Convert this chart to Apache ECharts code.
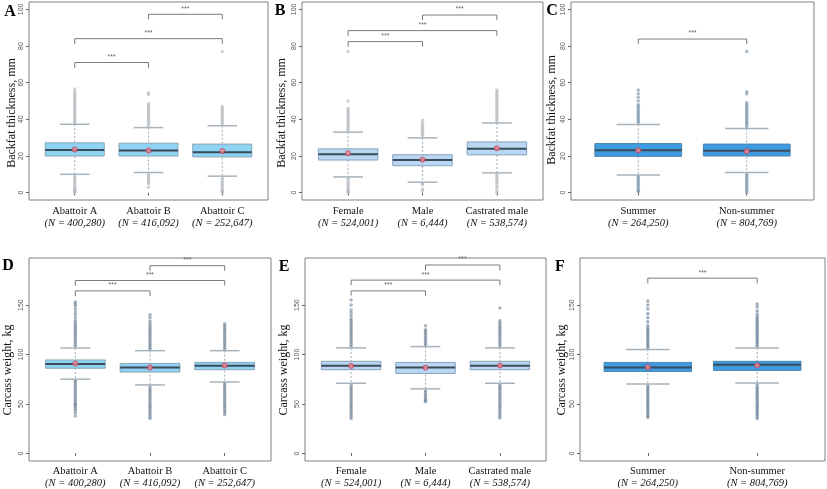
<!DOCTYPE html>
<html><head><meta charset="utf-8">
<script src="https://cdn.jsdelivr.net/npm/echarts@6/dist/echarts.min.js"></script>
<style>html,body{margin:0;padding:0;background:#fff}#c{width:827px;height:489px}</style>
</head><body><div id="c"></div><script>
// ---------- data ----------
const backfatTicks = [0, 20, 40, 60, 80, 100];
const carcassTicks = [0, 50, 100, 150];

const abattoirCats = ['Abattoir A', 'Abattoir B', 'Abattoir C'];
const abattoirN = ['400,280', '416,092', '252,647'];
const sexCats = ['Female', 'Male', 'Castrated male'];
const sexN = ['524,001', '6,444', '538,574'];
const seasonCats = ['Summer', 'Non-summer'];
const seasonN = ['264,250', '804,769'];

// box stats: [lower whisker, Q1, median, Q3, upper whisker]
const backfatAbattoirBox = [[10, 20, 23.3, 27.2, 37.3], [11, 20, 23, 27, 35.5], [9, 19.5, 22, 26.5, 36.5]];
const backfatAbattoirMean = [23.5, 23, 22.7];
const backfatAbattoirOut = [
  [0, 0.5, 1, 1.5, 2, 3, 4, 5, 6, 7, 8, 9, 38, 39, 40, 41, 42, 43, 44, 45, 46, 47, 48, 49, 50, 51, 52, 53, 54, 55, 56.5],
  [3, 5, 6, 7, 8, 9, 10, 36.5, 37.5, 38.5, 39.5, 40.5, 41.5, 42.5, 43.5, 44.5, 45.5, 46.5, 47.5, 48.5, 53.5, 54.5],
  [0, 0.5, 1, 2, 3, 4, 5, 6, 7, 8, 37, 38, 39, 40, 41, 42, 43, 44, 45, 46, 47, 77]
];
// significance brackets: [from, to, top, drop end]
const backfatAbattoirSig = [[0, 1, 71, 68], [0, 2, 84, 81], [1, 2, 97.3, 94.6]];

const backfatSexBox = [[8.6, 17.8, 20.9, 23.9, 33], [5.7, 14.7, 17.8, 20.7, 29.9], [10.8, 20.6, 23.9, 27.7, 38]];
const backfatSexMean = [21.5, 18, 24.2];
const backfatSexOut = [
  [0, 0.5, 1, 2, 3, 4, 5, 6, 7, 8, 34, 35, 36, 37, 38, 39, 40, 41, 42, 43, 44, 45, 46, 50, 77],
  [1, 2, 4.5, 5, 31, 32, 33, 34, 35, 36, 37, 38, 39.5],
  [0, 1, 2.5, 3.5, 5, 6, 7, 8, 9, 10, 39, 40, 41, 42, 43, 44, 45, 46, 47, 48, 49, 50, 51, 52, 53, 54, 55, 56]
];
const backfatSexSig = [[0, 1, 82.4, 79.6], [0, 2, 88.4, 85.6], [1, 2, 96.9, 94.2]];

const backfatSeasonBox = [[9.7, 19.8, 23.1, 26.8, 37.2], [11, 20, 22.8, 26.5, 35]];
const backfatSeasonMean = [23.1, 22.6];
const backfatSeasonOut = [
  [0.5, 1, 2, 3, 4, 5, 6, 7, 8, 9, 38, 39, 40, 41, 42, 43, 44, 45, 46, 47, 48, 50, 52, 54, 56],
  [0, 1, 2, 3, 4, 5, 6, 7, 8, 9, 10, 36, 37, 38, 39, 40, 41, 42, 43, 44, 45, 46, 47, 48, 49, 54, 55, 77]
];
const backfatSeasonSig = [[0, 1, 83.8, 81]];

const carcassAbattoirBox = [[74.8, 85.9, 90.3, 94.3, 106.4], [69, 82, 86.7, 90.8, 103.7], [72, 84.4, 88.4, 91.8, 103.7]];
const carcassAbattoirMean = [90.6, 86.7, 88.6];
const carcassAbattoirOut = [
  [37.5, 40.5, 43, 45, 47, 49, 50, 52, 54, 56, 58, 60, 62, 64, 66, 68, 70, 72, 73.5,
   108, 110, 112, 114, 116, 118, 120, 122, 124, 126, 128, 130, 132, 134, 137, 140, 143, 146, 149, 151, 153],
  [35, 37, 39, 41, 43, 45, 47, 49, 51, 53, 55, 57, 59, 61, 63, 65, 67.5,
   105, 107, 109, 111, 113, 115, 117, 119, 121, 123, 125, 127, 129, 131, 133.5, 137, 140],
  [39, 41, 43, 45, 47, 49, 51, 53, 55, 57, 59, 61, 63, 65, 67, 69, 71,
   105, 107, 109, 111, 113, 115, 117, 119, 121, 123, 125, 127, 129, 131]
];
const carcassAbattoirSig = [[0, 1, 164.3, 158.8], [0, 2, 174.8, 169.7], [1, 2, 189.8, 184.4]];

const carcassSexBox = [[70.7, 84.4, 88.4, 92.9, 106.5], [65, 80.6, 86.7, 91.8, 107.8], [70.7, 84.4, 88.4, 92.9, 106.5]];
const carcassSexMean = [88.2, 86.5, 88.6];
const carcassSexOut = [
  [35, 37, 39, 41, 43, 45, 47, 49, 51, 53, 55, 57, 59, 61, 63, 65, 67, 69.5,
   108, 110, 112, 114, 116, 118, 120, 122, 124, 126, 128, 130, 132, 134, 136, 139, 142, 145, 150, 155],
  [52, 53.5, 55, 57, 59, 61, 63, 109, 111, 113, 115, 117, 119, 121, 123, 125, 129],
  [35.5, 37.5, 39.5, 41.5, 43.5, 45.5, 47.5, 49.5, 51.5, 53.5, 55.5, 57.5, 59.5, 61.5, 63.5, 65.5, 67.5, 69.5,
   108, 110, 112, 114, 116, 118, 120, 122, 124, 126, 128, 130, 132, 134, 147]
];
const carcassSexSig = [[0, 1, 164.3, 159.5], [0, 2, 175.2, 170], [1, 2, 190.5, 185]];

const carcassSeasonBox = [[70, 82.6, 86.7, 91.8, 105], [71, 83.7, 89.5, 92.9, 106.5]];
const carcassSeasonMean = [87, 88.8];
const carcassSeasonOut = [
  [36, 38, 40, 42, 44, 46, 48, 50, 52, 54, 56, 58, 60, 62, 64, 66, 68.5,
   106.5, 108.5, 110.5, 112.5, 114.5, 116.5, 118.5, 120.5, 122.5, 124.5, 126.5, 129, 133, 137, 141, 146, 150, 154],
  [35, 37, 39, 41, 43, 45, 47, 49, 51, 53, 55, 57, 59, 61, 63, 65, 67, 69.5,
   108, 110, 112, 114, 116, 118, 120, 122, 124, 126, 128, 130, 132, 134, 136, 138, 140.5, 144, 148, 151]
];
const carcassSeasonSig = [[0, 1, 177.2, 171.8]];

// ---------- layout / styles ----------
const styleLight = {fill: '#8fd3f2', stroke: '#8aa6b6', out: 'rgba(175,180,186,0.75)'};
const stylePale = {fill: '#b9d7f2', stroke: '#8aa3ba', out: 'rgba(175,180,186,0.75)'};
const styleDark = {fill: '#3f9be0', stroke: '#4d86b0', out: 'rgba(120,145,168,0.8)'};
const styleLightB = {fill: '#8fd3f2', stroke: '#8aa6b6', out: 'rgba(75,100,125,0.6)'};
const stylePaleB = {fill: '#b9d7f2', stroke: '#8aa3ba', out: 'rgba(75,100,125,0.6)'};
const styleDarkB = {fill: '#3f9be0', stroke: '#4d86b0', out: 'rgba(70,100,130,0.65)'};

const panels = [
  {letter: 'A', lp: [10, 12], frame: [29, 2, 239, 198], tx: 12, ty: 113, title: 'Backfat thickness, mm', yr: [-4, 104], ticks: backfatTicks,
   cats: abattoirCats, ns: abattoirN, box: backfatAbattoirBox, mean: backfatAbattoirMean, out: backfatAbattoirOut, sig: backfatAbattoirSig, st: styleLight},
  {letter: 'B', lp: [280, 11], frame: [302, 2, 241, 198], tx: 282, ty: 113, title: 'Backfat thickness, mm', yr: [-4, 104], ticks: backfatTicks,
   cats: sexCats, ns: sexN, box: backfatSexBox, mean: backfatSexMean, out: backfatSexOut, sig: backfatSexSig, st: stylePale},
  {letter: 'C', lp: [552, 11], frame: [571, 2, 243, 198], tx: 552, ty: 110, title: 'Backfat thickness, mm', yr: [-4, 104], ticks: backfatTicks,
   cats: seasonCats, ns: seasonN, box: backfatSeasonBox, mean: backfatSeasonMean, out: backfatSeasonOut, sig: backfatSeasonSig, st: styleDark},
  {letter: 'D', lp: [8, 266], frame: [29, 258, 242, 203], tx: 8, ty: 370, title: 'Carcass weight, kg', yr: [-7.6, 197.6], ticks: carcassTicks,
   cats: abattoirCats, ns: abattoirN, box: carcassAbattoirBox, mean: carcassAbattoirMean, out: carcassAbattoirOut, sig: carcassAbattoirSig, st: styleLightB},
  {letter: 'E', lp: [284, 267], frame: [305, 258, 241, 203], tx: 284, ty: 370, title: 'Carcass weight, kg', yr: [-7.6, 197.6], ticks: carcassTicks,
   cats: sexCats, ns: sexN, box: carcassSexBox, mean: carcassSexMean, out: carcassSexOut, sig: carcassSexSig, st: stylePaleB},
  {letter: 'F', lp: [560, 267], frame: [580, 258, 245, 203], tx: 562, ty: 370, title: 'Carcass weight, kg', yr: [-7.6, 197.6], ticks: carcassTicks,
   cats: seasonCats, ns: seasonN, box: carcassSeasonBox, mean: carcassSeasonMean, out: carcassSeasonOut, sig: carcassSeasonSig, st: styleDarkB}
];

function boxRenderer(st) {
  return function (params, api) {
    const x = api.value(0);
    const lo = api.coord([x, api.value(1)]);
    const q1 = api.coord([x, api.value(2)]);
    const md = api.coord([x, api.value(3)]);
    const q3 = api.coord([x, api.value(4)]);
    const hi = api.coord([x, api.value(5)]);
    const band = api.size([1, 0])[0];
    const bw = band * 0.8, cw = band * 0.4, cx = lo[0];
    const capStyle = {stroke: '#a7b3bc', lineWidth: 1.5};
    return {type: 'group', children: [
      {type: 'line', shape: {x1: cx, y1: hi[1], x2: cx, y2: lo[1]}, style: {stroke: '#a0a8b0', lineWidth: 1, lineDash: [2, 2]}},
      {type: 'line', shape: {x1: cx - cw / 2, y1: hi[1], x2: cx + cw / 2, y2: hi[1]}, style: capStyle},
      {type: 'line', shape: {x1: cx - cw / 2, y1: lo[1], x2: cx + cw / 2, y2: lo[1]}, style: capStyle},
      {type: 'rect', shape: {x: cx - bw / 2, y: q3[1], width: bw, height: q1[1] - q3[1]}, style: {fill: st.fill, stroke: st.stroke, lineWidth: 1}},
      {type: 'line', shape: {x1: cx - bw / 2, y1: md[1], x2: cx + bw / 2, y2: md[1]}, style: {stroke: '#3a4b5a', lineWidth: 2}}
    ]};
  };
}

function bracketRenderer(params, api) {
  const a = api.value(0), b = api.value(1), top = api.value(2), low = api.value(3);
  const p1 = api.coord([a, low]), p2 = api.coord([a, top]), p3 = api.coord([b, top]), p4 = api.coord([b, low]);
  return {type: 'group', children: [
    {type: 'polyline', shape: {points: [p1, p2, p3, p4]}, style: {stroke: '#7a7a7a', lineWidth: 1, fill: null}},
    {type: 'text', x: (p2[0] + p3[0]) / 2, y: p2[1] - 2, style: {text: '***', fontSize: 7, fontFamily: 'Liberation Sans', fill: '#666', align: 'center', verticalAlign: 'bottom'}}
  ]};
}

const option = {animation: false, backgroundColor: '#ffffff', grid: [], xAxis: [], yAxis: [], series: [], graphic: []};

panels.forEach(function (p) {
  const fl = p.frame[0], ft = p.frame[1], fw = p.frame[2], fh = p.frame[3];
  const nc = p.cats.length;
  const inset = fw * 0.12 / (nc + 0.24);
  const g = option.grid.length;
  option.grid.push({left: fl, top: ft, width: fw, height: fh, show: true, borderColor: '#808080', borderWidth: 1, backgroundColor: 'rgba(0,0,0,0)'});
  option.grid.push({left: fl + inset, top: ft, width: fw - 2 * inset, height: fh});
  option.xAxis.push({gridIndex: g, type: 'value', show: false, min: 0, max: 1});
  option.yAxis.push({gridIndex: g, type: 'value', min: p.yr[0], max: p.yr[1], offset: 1,
    axisLine: {show: false}, splitLine: {show: false},
    axisTick: {show: true, length: 3, customValues: p.ticks, lineStyle: {color: '#666'}},
    axisLabel: {customValues: p.ticks, rotate: 90, fontSize: 7, color: '#555', margin: 3, fontFamily: 'Liberation Sans'}});
  option.xAxis.push({gridIndex: g + 1, type: 'category', data: p.cats,
    axisLine: {show: false},
    axisTick: {show: true, alignWithLabel: true, length: 3, lineStyle: {color: '#666'}},
    axisLabel: {interval: 0, margin: 5, color: '#111',
      formatter: function (v, i) { return '{a|' + v + '}\n{b|(N = ' + p.ns[i] + ')}'; },
      rich: {a: {fontFamily: 'Liberation Serif', fontSize: 10.5, lineHeight: 12, color: '#111'},
             b: {fontFamily: 'Liberation Serif', fontStyle: 'italic', fontSize: 10.5, lineHeight: 12, color: '#111'}}}});
  option.yAxis.push({gridIndex: g + 1, type: 'value', min: p.yr[0], max: p.yr[1], show: false});

  const outData = [];
  p.out.forEach(function (arr, i) { arr.forEach(function (v) { outData.push([i, v]); }); });
  option.series.push({type: 'scatter', xAxisIndex: g + 1, yAxisIndex: g + 1, data: outData, symbol: 'circle', symbolSize: 3.5,
    itemStyle: {color: p.st.out}, z: 2, silent: true});
  option.series.push({type: 'custom', xAxisIndex: g + 1, yAxisIndex: g + 1,
    data: p.box.map(function (b, i) { return [i].concat(b); }),
    encode: {x: 0, y: [1, 2, 3, 4, 5]}, renderItem: boxRenderer(p.st), z: 3, silent: true});
  option.series.push({type: 'scatter', xAxisIndex: g + 1, yAxisIndex: g + 1,
    data: p.mean.map(function (m, i) { return [i, m]; }), symbol: 'circle', symbolSize: 5,
    itemStyle: {color: '#e88f9c', borderColor: '#c8384f', borderWidth: 1}, z: 5, silent: true});
  option.series.push({type: 'custom', xAxisIndex: g + 1, yAxisIndex: g + 1, data: p.sig,
    encode: {x: [0, 1], y: [2, 3]}, renderItem: bracketRenderer, z: 4, silent: true});

  option.graphic.push({type: 'text', x: p.lp[0], y: p.lp[1], style: {text: p.letter, font: 'bold 16px "Liberation Serif"', fill: '#000', align: 'center', verticalAlign: 'middle'}});
  option.graphic.push({type: 'text', x: p.tx, y: p.ty, rotation: Math.PI / 2, style: {text: p.title, font: '12px "Liberation Serif"', fill: '#111', align: 'center', verticalAlign: 'middle'}});
});

const chart = echarts.init(document.getElementById('c'), null, {renderer: 'canvas'});
chart.setOption(option);
</script></body></html>
